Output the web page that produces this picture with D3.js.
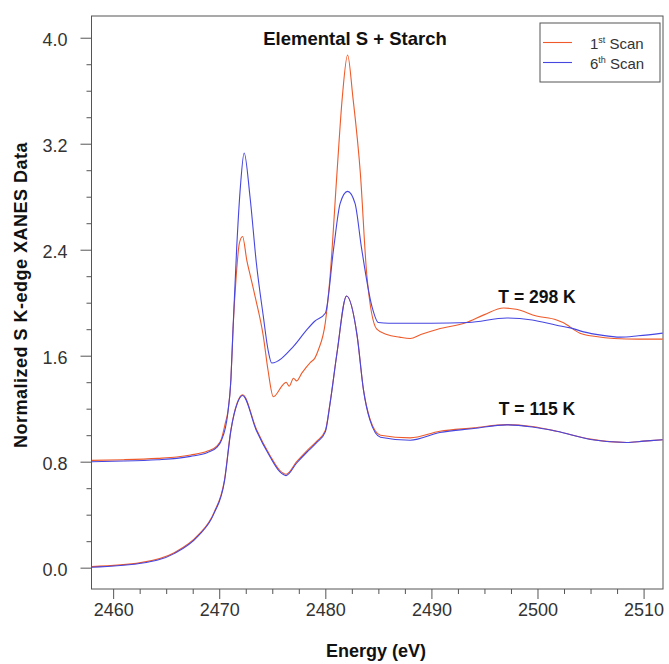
<!DOCTYPE html>
<html>
<head>
<meta charset="utf-8">
<script src="https://cdn.jsdelivr.net/npm/d3@7"></script>
<style>
  html, body { margin: 0; padding: 0; background: #fff; }
  svg { display: block; font-family: "Liberation Sans", Arial, Helvetica, sans-serif; }
</style>
</head>
<body>
<svg id="chart" width="669" height="664"></svg>
<script>
// Energy (eV) / normalized absorbance pairs for each scan
const rt1st = [
  [2458.0,0.81],[2461.0,0.815],[2464.2,0.825],[2466.0,0.835],[2467.3,0.85],[2468.9,0.88],
  [2469.8,0.92],[2470.2,0.97],[2470.6,1.10],[2470.8,1.17],[2471.1,1.42],[2471.3,1.80],
  [2471.6,2.20],[2471.9,2.45],[2472.2,2.50],[2472.6,2.32],[2473.0,2.18],[2473.4,2.04],
  [2474.15,1.75],[2474.6,1.49],[2475.1,1.29],[2476.0,1.38],[2476.3,1.40],[2476.6,1.37],
  [2477.0,1.43],[2477.3,1.41],[2477.8,1.47],[2478.6,1.55],[2479.0,1.58],[2479.35,1.645],
  [2480.0,1.85],[2480.45,2.20],[2481.1,2.98],[2481.6,3.55],[2482.1,3.87],[2482.6,3.55],
  [2483.3,2.98],[2483.9,2.22],[2484.85,1.80],[2485.8,1.76],[2487.0,1.74],[2488.0,1.73],
  [2489.0,1.76],[2490.6,1.80],[2493.3,1.85],[2495.0,1.91],[2496.8,1.96],[2498.0,1.95],
  [2499.9,1.90],[2501.8,1.87],[2502.4,1.85],[2504.0,1.77],[2505.5,1.745],[2507.2,1.73],
  [2509.5,1.725],[2511.8,1.725]
];
const rt6th = [
  [2458.0,0.80],[2461.0,0.805],[2464.2,0.815],[2466.0,0.825],[2467.3,0.84],[2468.9,0.87],
  [2469.8,0.91],[2470.2,0.96],[2470.8,1.16],[2471.1,1.42],[2471.3,1.80],[2471.65,2.42],
  [2472.0,2.88],[2472.35,3.13],[2472.9,2.80],[2473.5,2.30],[2474.15,1.90],[2474.6,1.645],
  [2474.95,1.545],[2477.0,1.67],[2478.3,1.80],[2479.0,1.86],[2480.0,1.92],[2480.8,2.42],
  [2481.4,2.75],[2482.1,2.84],[2482.8,2.75],[2483.4,2.42],[2484.4,1.97],[2485.0,1.85],
  [2486.0,1.845],[2490.0,1.845],[2493.5,1.85],[2497.1,1.885],[2499.5,1.87],[2501.8,1.83],
  [2503.1,1.81],[2504.35,1.78],[2506.0,1.755],[2507.8,1.74],[2509.5,1.75],[2511.8,1.77]
];
const lt1st = [
  [2458.0,0.008],[2462.6,0.038],[2465.8,0.115],[2468.0,0.245],[2469.5,0.415],[2470.5,0.665],
  [2471.1,1.04],[2471.7,1.245],[2472.2,1.305],[2473.5,1.045],[2474.8,0.845],[2475.7,0.735],
  [2476.3,0.705],[2477.3,0.80],[2478.3,0.885],[2479.2,0.955],[2480.0,1.035],[2480.45,1.245],
  [2481.1,1.62],[2482.0,2.05],[2483.0,1.75],[2483.6,1.34],[2484.2,1.125],[2485.2,1.0],
  [2488.0,0.98],[2490.8,1.03],[2494.0,1.055],[2497.1,1.08],[2499.5,1.065],[2501.8,1.03],
  [2505.0,0.97],[2508.4,0.945],[2510.0,0.955],[2511.8,0.966]
];
const lt6th = [
  [2458.0,0.003],[2462.6,0.033],[2465.8,0.108],[2468.0,0.238],[2469.5,0.408],[2470.5,0.655],
  [2471.1,1.035],[2471.7,1.24],[2472.2,1.30],[2473.5,1.035],[2474.8,0.835],[2475.7,0.725],
  [2476.3,0.695],[2477.3,0.79],[2478.3,0.875],[2479.2,0.945],[2480.0,1.025],[2480.45,1.24],
  [2481.1,1.62],[2482.0,2.05],[2483.0,1.75],[2483.6,1.34],[2484.2,1.115],[2485.2,0.985],
  [2488.0,0.962],[2490.8,1.02],[2494.0,1.05],[2497.1,1.078],[2499.5,1.062],[2501.8,1.03],
  [2505.0,0.968],[2508.4,0.945],[2510.0,0.955],[2511.8,0.966]
];

const xMajorTicks = [2460, 2470, 2480, 2490, 2500, 2510];
const xMinorTicks = d3.range(2457.5, 2512, 2.5).filter(v => v >= 2458 && v % 10 !== 0);
const yMajorTicks = [0.0, 0.8, 1.6, 2.4, 3.2, 4.0];
const yMinorTicks = d3.range(0, 4.2, 0.2).map(v => +v.toFixed(1)).filter(v => Math.round(v * 10) % 8 !== 0);

const colFirst = "#ee5a2a";
const colSixth = "#4646e0";

const svg = d3.select("#chart");
const m = { left: 91.5, right: 663, top: 16, bottom: 589 };

const x = d3.scaleLinear().domain([2457.96, 2511.83]).range([m.left, m.right]);
const y = d3.scaleLinear().domain([-0.161, 4.164]).range([m.bottom, m.top]);

// plot frame
svg.append("rect")
  .attr("x", m.left).attr("y", m.top)
  .attr("width", m.right - m.left).attr("height", m.bottom - m.top)
  .attr("fill", "none").attr("stroke", "#555").attr("stroke-width", 1);

// axes: major ticks with labels, minor ticks without
const xAxis = svg.append("g").attr("transform", `translate(0,${m.bottom})`)
  .call(d3.axisBottom(x).tickValues(xMajorTicks).tickSize(10).tickPadding(4).tickFormat(d3.format("d")));
const xMinor = svg.append("g").attr("transform", `translate(0,${m.bottom})`)
  .call(d3.axisBottom(x).tickValues(xMinorTicks).tickSize(5).tickFormat(""));
const yAxis = svg.append("g").attr("transform", `translate(${m.left},0)`)
  .call(d3.axisLeft(y).tickValues(yMajorTicks).tickSize(11).tickPadding(13).tickFormat(d3.format(".1f")));
const yMinor = svg.append("g").attr("transform", `translate(${m.left},0)`)
  .call(d3.axisLeft(y).tickValues(yMinorTicks).tickSize(5).tickFormat(""));

[xAxis, xMinor, yAxis, yMinor].forEach(g => {
  g.select(".domain").remove();
  g.selectAll(".tick line").attr("stroke", "#555").attr("stroke-width", 1);
  g.selectAll(".tick text").attr("fill", "#333").attr("font-size", 18)
    .attr("font-family", "'Liberation Sans', Arial, sans-serif");
});
yAxis.selectAll(".tick text").attr("dy", "0.45em");

// curves
const line = d3.line().x(d => x(d[0])).y(d => y(d[1])).curve(d3.curveMonotoneX);
const curves = [
  { data: rt1st, color: colFirst },
  { data: lt1st, color: colFirst },
  { data: rt6th, color: colSixth },
  { data: lt6th, color: colSixth }
];
svg.append("g").selectAll("path").data(curves).join("path")
  .attr("d", d => line(d.data))
  .attr("fill", "none")
  .attr("stroke", d => d.color)
  .attr("stroke-width", 1.1)
  .attr("stroke-linejoin", "round");

// title and annotations
svg.append("text").attr("x", 355).attr("y", 45).attr("text-anchor", "middle")
  .attr("font-size", 18.5).attr("font-weight", "bold").attr("fill", "#111")
  .text("Elemental S + Starch");
svg.append("text").attr("x", 537).attr("y", 303).attr("text-anchor", "middle")
  .attr("font-size", 17.5).attr("font-weight", "bold").attr("fill", "#111")
  .text("T = 298 K");
svg.append("text").attr("x", 537).attr("y", 415).attr("text-anchor", "middle")
  .attr("font-size", 17.5).attr("font-weight", "bold").attr("fill", "#111")
  .text("T = 115 K");

// axis titles
svg.append("text").attr("x", 376).attr("y", 657).attr("text-anchor", "middle")
  .attr("font-size", 18).attr("font-weight", "bold").attr("fill", "#111")
  .text("Energy (eV)");
svg.append("text")
  .attr("transform", "translate(27,295) rotate(-90)")
  .attr("text-anchor", "middle")
  .attr("font-size", 18).attr("font-weight", "bold").attr("fill", "#111")
  .attr("letter-spacing", 0.5)
  .text("Normalized S K-edge XANES Data");

// legend
const legend = svg.append("g");
legend.append("rect").attr("x", 540).attr("y", 23).attr("width", 120).attr("height", 59)
  .attr("fill", "#fff").attr("stroke", "#555").attr("stroke-width", 1);
const legendItems = [
  { n: "1", sup: "st", color: colFirst, yy: 42.5 },
  { n: "6", sup: "th", color: colSixth, yy: 62.5 }
];
legendItems.forEach(it => {
  legend.append("line").attr("x1", 543).attr("x2", 572).attr("y1", it.yy).attr("y2", it.yy)
    .attr("stroke", it.color).attr("stroke-width", 1.1);
  const t = legend.append("text").attr("x", 590).attr("y", it.yy + 6)
    .attr("font-size", 15).attr("fill", "#333");
  t.append("tspan").text(it.n);
  t.append("tspan").attr("dy", -6).attr("font-size", 9).text(it.sup);
  t.append("tspan").attr("dy", 6).text(" Scan");
});
</script>
</body>
</html>
